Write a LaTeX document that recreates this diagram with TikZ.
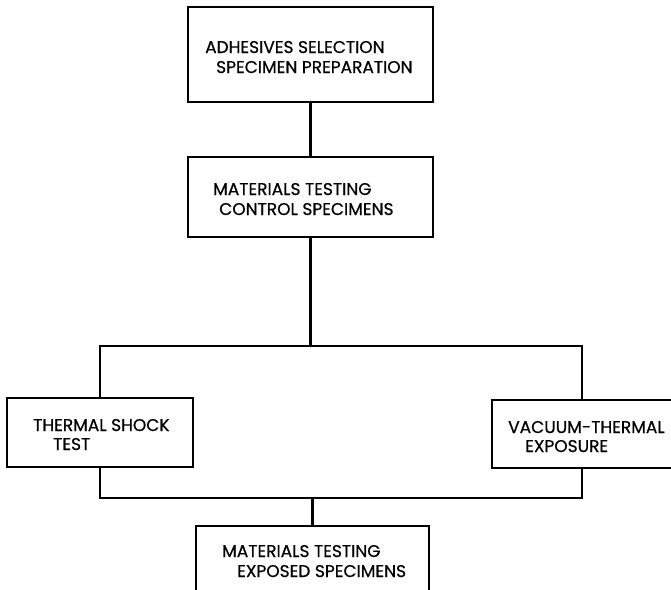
\documentclass[tikz,border=0pt]{standalone}
\usepackage{fontspec}
\setmainfont{Poppins}[FakeBold=0.6]
\usepackage{xcolor}
\usepackage{tikz}
\usetikzlibrary{positioning}

\begin{document}
\begin{tikzpicture}[x=1pt, y=-1pt,
    box/.style={draw, line width=1.5pt, inner sep=0pt},
    link/.style={line width=2.2pt},
    lbl/.style={anchor=base west, inner sep=0pt, font=\fontsize{17}{20}\selectfont}]
\useasboundingbox (0,0) rectangle (671,589);

\node[box, minimum width=245pt, minimum height=95pt] (adhesives) at (310.5,54.5) {};
\node[box, minimum width=245pt, minimum height=80pt] (control) at (310.5,197) {};
\node[box, minimum width=186pt, minimum height=69pt] (shock) at (100,432.5) {};
\node[box, minimum width=180pt, minimum height=68pt] (vacuum) at (582,434) {};
\node[box, minimum width=233pt, minimum height=80pt] (exposed) at (312.5,566) {};

\node[lbl] (adhesives_1) at (205,53) {ADHESIVES SELECTION};
\node[lbl] (adhesives_2) at (216,73) {SPECIMEN PREPARATION};
\node[lbl] (control_1) at (213,195) {MATERIALS TESTING};
\node[lbl] (control_2) at (219,215) {CONTROL SPECIMENS};
\node[lbl] (shock_1) at (33,431) {THERMAL SHOCK};
\node[lbl] (shock_2) at (53,450) {TEST};
\node[lbl] (vacuum_1) at (508,433) {VACUUM-THERMAL};
\node[lbl] (vacuum_2) at (525,452) {EXPOSURE};
\node[lbl] (exposed_1) at (222,557) {MATERIALS TESTING};
\node[lbl] (exposed_2) at (237,577) {EXPOSED SPECIMENS};

\coordinate (split) at (310.5,346);
\coordinate (join) at (312.5,498);

\draw[link] (adhesives) -- (control);
\draw[link] (control) -- (split);
\draw[link] (shock.north) |- (split) -| (vacuum.north);
\draw[link] (shock.south) |- (join) -| (vacuum.south);
\draw[link] (join) -- (exposed);

\end{tikzpicture}
\end{document}
